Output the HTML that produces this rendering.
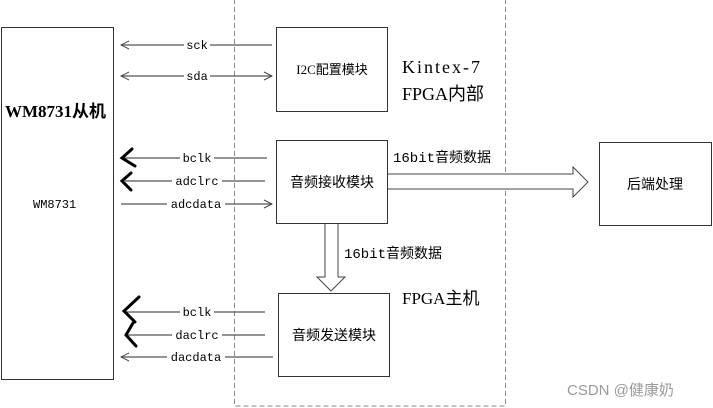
<!DOCTYPE html>
<html><head><meta charset="utf-8"><style>
html,body{margin:0;padding:0;background:#fff;}
svg{display:block;}
text{font-family:"Liberation Mono","Noto Sans CJK SC",monospace;fill:#000;}
.cj{font-family:"Noto Sans CJK SC",sans-serif;}
.sf{font-family:"Liberation Serif","Noto Sans CJK SC",serif;}
</style></head><body>
<svg width="713" height="408" viewBox="0 0 713 408" xmlns="http://www.w3.org/2000/svg">
<defs>
<marker id="a" markerWidth="10" markerHeight="10" refX="9" refY="5" orient="auto" markerUnits="userSpaceOnUse">
<path d="M1,1 L9,5 L1,9" fill="none" stroke="#444" stroke-width="1"/></marker>
</defs>
<rect x="234.5" y="-2" width="271" height="408" fill="none" stroke="#888" stroke-dasharray="5,3"/>
<rect x="1.5" y="27.5" width="112" height="352" fill="none" stroke="#333"/>
<text x="5" y="117" class="sf" font-size="17" font-weight="bold">WM8731从机</text>
<text x="33" y="208" font-size="12">WM8731</text>
<rect x="276.5" y="27.5" width="111" height="84" fill="none" stroke="#333"/>
<text x="332" y="74" font-size="13" text-anchor="middle" class="sf">I2C配置模块</text>
<rect x="276.5" y="140.5" width="111" height="83" fill="none" stroke="#333"/>
<text x="332" y="187" font-size="14" text-anchor="middle" class="cj">音频接收模块</text>
<rect x="278.5" y="293.5" width="111" height="83" fill="none" stroke="#333"/>
<text x="334" y="340" font-size="14" text-anchor="middle" class="cj">音频发送模块</text>
<rect x="599.5" y="142.5" width="112" height="83" fill="none" stroke="#333"/>
<text x="655" y="189" font-size="14" text-anchor="middle" class="cj">后端处理</text>
<text x="402" y="73" font-size="18" class="sf" letter-spacing="2">Kintex-7</text>
<text x="402" y="100" font-size="18" class="sf">FPGA内部</text>
<text x="402" y="304" font-size="17" class="sf">FPGA主机</text>
<text x="393" y="162" font-size="14">16bit音频数据</text>
<text x="344" y="258" font-size="14">16bit音频数据</text>
<text x="567" y="395" font-size="15" style="fill:#9a9a9a;font-family:'Liberation Sans','Noto Sans CJK SC',sans-serif">CSDN @健康奶</text>
<g stroke="#555" stroke-width="1.2" fill="none">
<line x1="272" y1="45" x2="121" y2="45" marker-end="url(#a)"/>
<line x1="185" y1="76" x2="121" y2="76" marker-end="url(#a)"/>
<line x1="210" y1="76" x2="272" y2="76" marker-end="url(#a)"/>
<line x1="267" y1="158" x2="125" y2="158"/>
<line x1="265" y1="181" x2="125" y2="181"/>
<line x1="121" y1="204" x2="272" y2="204" marker-end="url(#a)"/>
<line x1="265" y1="312" x2="125" y2="312"/>
<line x1="265" y1="335" x2="125" y2="335"/>
<line x1="273" y1="357" x2="121" y2="357" marker-end="url(#a)"/>
</g>
<g font-size="12" text-anchor="middle">
<rect x="184" y="38" width="26" height="14" fill="#fff"/><text x="197" y="49">sck</text>
<rect x="184" y="69" width="26" height="14" fill="#fff"/><text x="197" y="80">sda</text>
<rect x="180" y="151" width="34" height="14" fill="#fff"/><text x="197" y="162">bclk</text>
<rect x="172" y="174" width="50" height="14" fill="#fff"/><text x="197" y="185">adclrc</text>
<rect x="167" y="197" width="58" height="14" fill="#fff"/><text x="196" y="208">adcdata</text>
<rect x="180" y="305" width="34" height="14" fill="#fff"/><text x="197" y="316">bclk</text>
<rect x="172" y="328" width="50" height="14" fill="#fff"/><text x="197" y="339">daclrc</text>
<rect x="167" y="350" width="58" height="14" fill="#fff"/><text x="196" y="361">dacdata</text>
</g>
<g stroke="#000" stroke-width="3" fill="none" stroke-linecap="round">
<path d="M132,149 L122,158 L135,166"/>
<path d="M131,173 L122,181 L131,190"/>
<path d="M139,297 L124,311 L135,322"/>
<path d="M133,323 L126,335 L136,346"/>
</g>
<path d="M388,174 L573,174 L573,167 L588,182 L573,197 L573,189 L388,189" fill="#fff" stroke="#444" stroke-width="1"/>
<path d="M325,224 L325,277 L317,277 L331,291 L345,277 L338,277 L338,224" fill="#fff" stroke="#444" stroke-width="1"/>
</svg>
</body></html>
